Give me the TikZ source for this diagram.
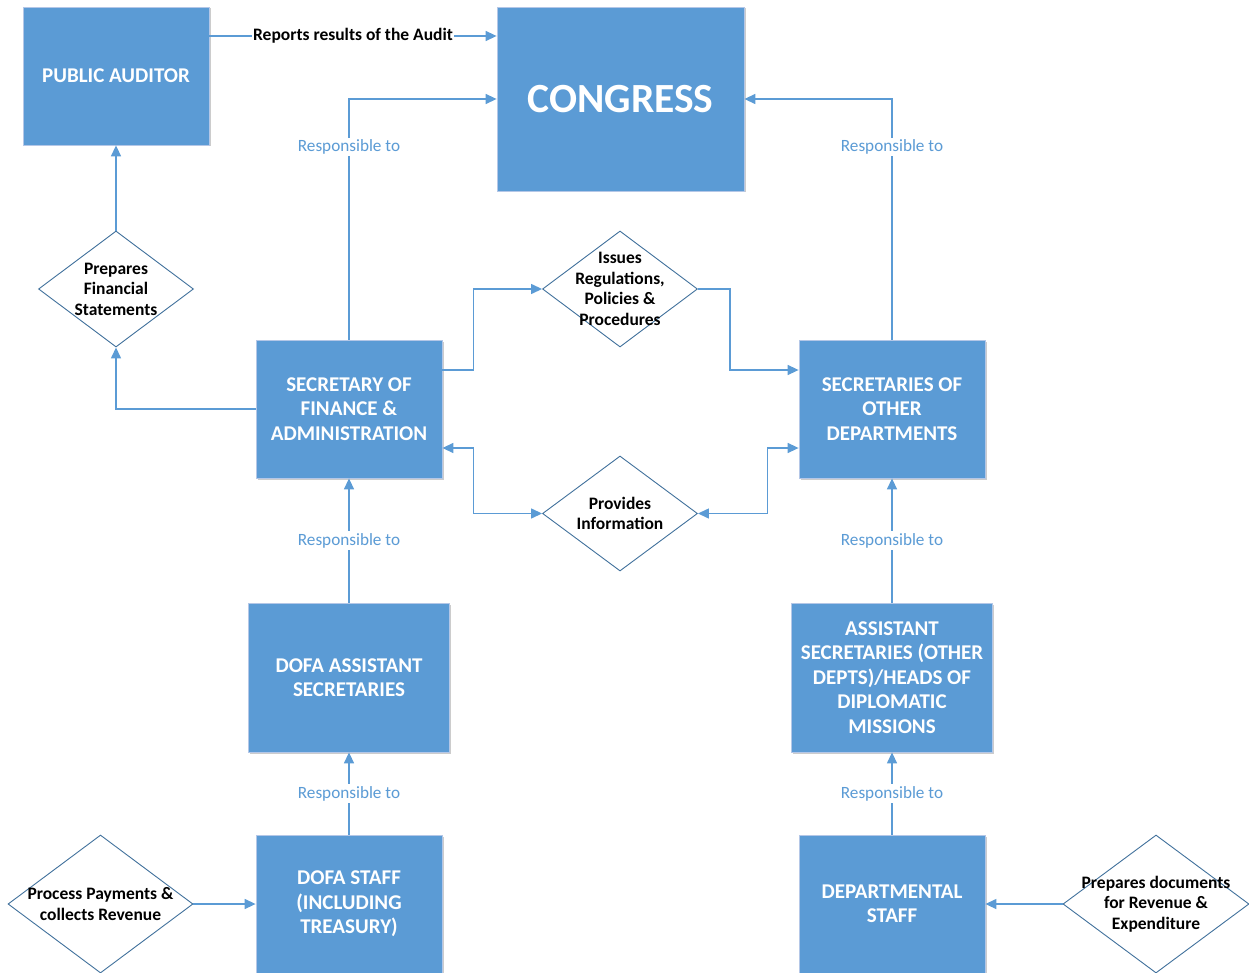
\documentclass[tikz,border=0pt]{standalone}
\usepackage{fontspec}
\setmainfont{Carlito}
\usetikzlibrary{calc,positioning,arrows.meta,shapes.geometric,shadows}
\definecolor{boxblue}{HTML}{5B9BD5}
\definecolor{boxedge}{HTML}{B4C7E7}
\definecolor{dmdedge}{HTML}{41719C}
\begin{document}
\begin{tikzpicture}[x=1pt, y=-1pt,
    box/.style={rectangle,fill=boxblue,draw=boxedge,line width=0.8pt,text=white,align=center,inner sep=0pt,
                font=\bfseries\fontsize{21}{24.5}\selectfont,
                drop shadow={shadow xshift=1.5pt,shadow yshift=-1.5pt,opacity=0.2,fill=black}},
    dmd/.style={diamond,draw=dmdedge,fill=white,line width=0.9pt,inner sep=0pt,minimum width=155pt,minimum height=116pt},
    dtext/.style={align=center,font=\bfseries\fontsize{17.5}{20.5}\selectfont},
    conn/.style={draw=boxblue,line width=1.4pt,-{Triangle[length=11pt,width=10pt]}},
    both/.style={conn,{Triangle[length=11pt,width=10pt]}-{Triangle[length=11pt,width=10pt]}},
    resp/.style={fill=white,text=boxblue,inner sep=2pt,font=\fontsize{17.2}{20}\selectfont}]
  \useasboundingbox (0,0) rectangle (1249,973);
  \clip (0,0) rectangle (1249,973);
  % boxes
  \node[box,minimum width=186pt,minimum height=138pt] (pa) at (116,76) {PUBLIC AUDITOR};
  \node[box,minimum width=247pt,minimum height=184pt,font=\bfseries\fontsize{41.5}{44}\selectfont] (cong) at (620.5,99) {CONGRESS};
  \node[box,minimum width=186pt,minimum height=138pt] (sfa) at (349,409) {SECRETARY OF\\FINANCE \&\\ADMINISTRATION};
  \node[box,minimum width=186pt,minimum height=138pt] (sod) at (892,409) {SECRETARIES OF\\OTHER\\DEPARTMENTS};
  \node[box,minimum width=201pt,minimum height=149pt] (dasst) at (349,677.5) {DOFA ASSISTANT\\SECRETARIES};
  \node[box,minimum width=201pt,minimum height=149pt] (oasst) at (892,677.5) {ASSISTANT\\SECRETARIES (OTHER\\DEPTS)/HEADS OF\\DIPLOMATIC\\MISSIONS};
  \node[box,minimum width=186pt,minimum height=138pt] (dstaff) at (349,904) {DOFA STAFF\\(INCLUDING\\TREASURY)};
  \node[box,minimum width=186pt,minimum height=138pt] (depstaff) at (892,904) {DEPARTMENTAL\\STAFF};
  % diamonds
  \node[dmd,label={[dtext]center:Prepares\\Financial\\Statements}] (pfs) at (116,289) {};
  \node[dmd,label={[dtext]center:Issues\\Regulations,\\Policies \&\\Procedures}] (irp) at (620,289) {};
  \node[dmd,minimum height=115pt,label={[dtext]center:Provides\\Information}] (pinf) at (620,513.5) {};
  \node[dmd,minimum width=185pt,minimum height=138pt,label={[dtext]center:Process Payments \&\\collects Revenue}] (ppay) at (100.5,904) {};
  \node[dmd,minimum width=186pt,minimum height=138pt,label={[dtext]center:Prepares documents\\for Revenue \&\\Expenditure}] (pdoc) at (1156,904) {};
  % connectors
  \draw[conn] (pa.east |- 0,36) -- node[fill=white,inner sep=1pt,dtext]{Reports results of the Audit} (cong.west |- 0,36);
  \draw[conn] (sfa.north) |- node[pos=0.4,resp]{Responsible to} (cong.west);
  \draw[conn] (sod.north) |- node[pos=0.4,resp]{Responsible to} (cong.east);
  \draw[conn] (sfa.west) -| (pfs.south);
  \draw[conn] (pfs.north) -- (pa.south);
  \draw[conn] (sfa.east |- 0,370) -- ++(31,0) |- (irp.west);
  \draw[conn] (irp.east) -- ++(32,0) |- (sod.west |- 0,370);
  \draw[both] (sfa.east |- 0,448) -- ++(31,0) |- (pinf.west);
  \draw[both] (sod.west |- 0,448) -- ++(-31,0) |- (pinf.east);
  \draw[conn] (dasst.north) -- node[resp]{Responsible to} (sfa.south);
  \draw[conn] (oasst.north) -- node[resp]{Responsible to} (sod.south);
  \draw[conn] (dstaff.north) -- node[resp]{Responsible to} (dasst.south);
  \draw[conn] (depstaff.north) -- node[resp]{Responsible to} (oasst.south);
  \draw[conn] (ppay.east) -- (dstaff.west);
  \draw[conn] (pdoc.west) -- (depstaff.east);
\end{tikzpicture}
\end{document}
